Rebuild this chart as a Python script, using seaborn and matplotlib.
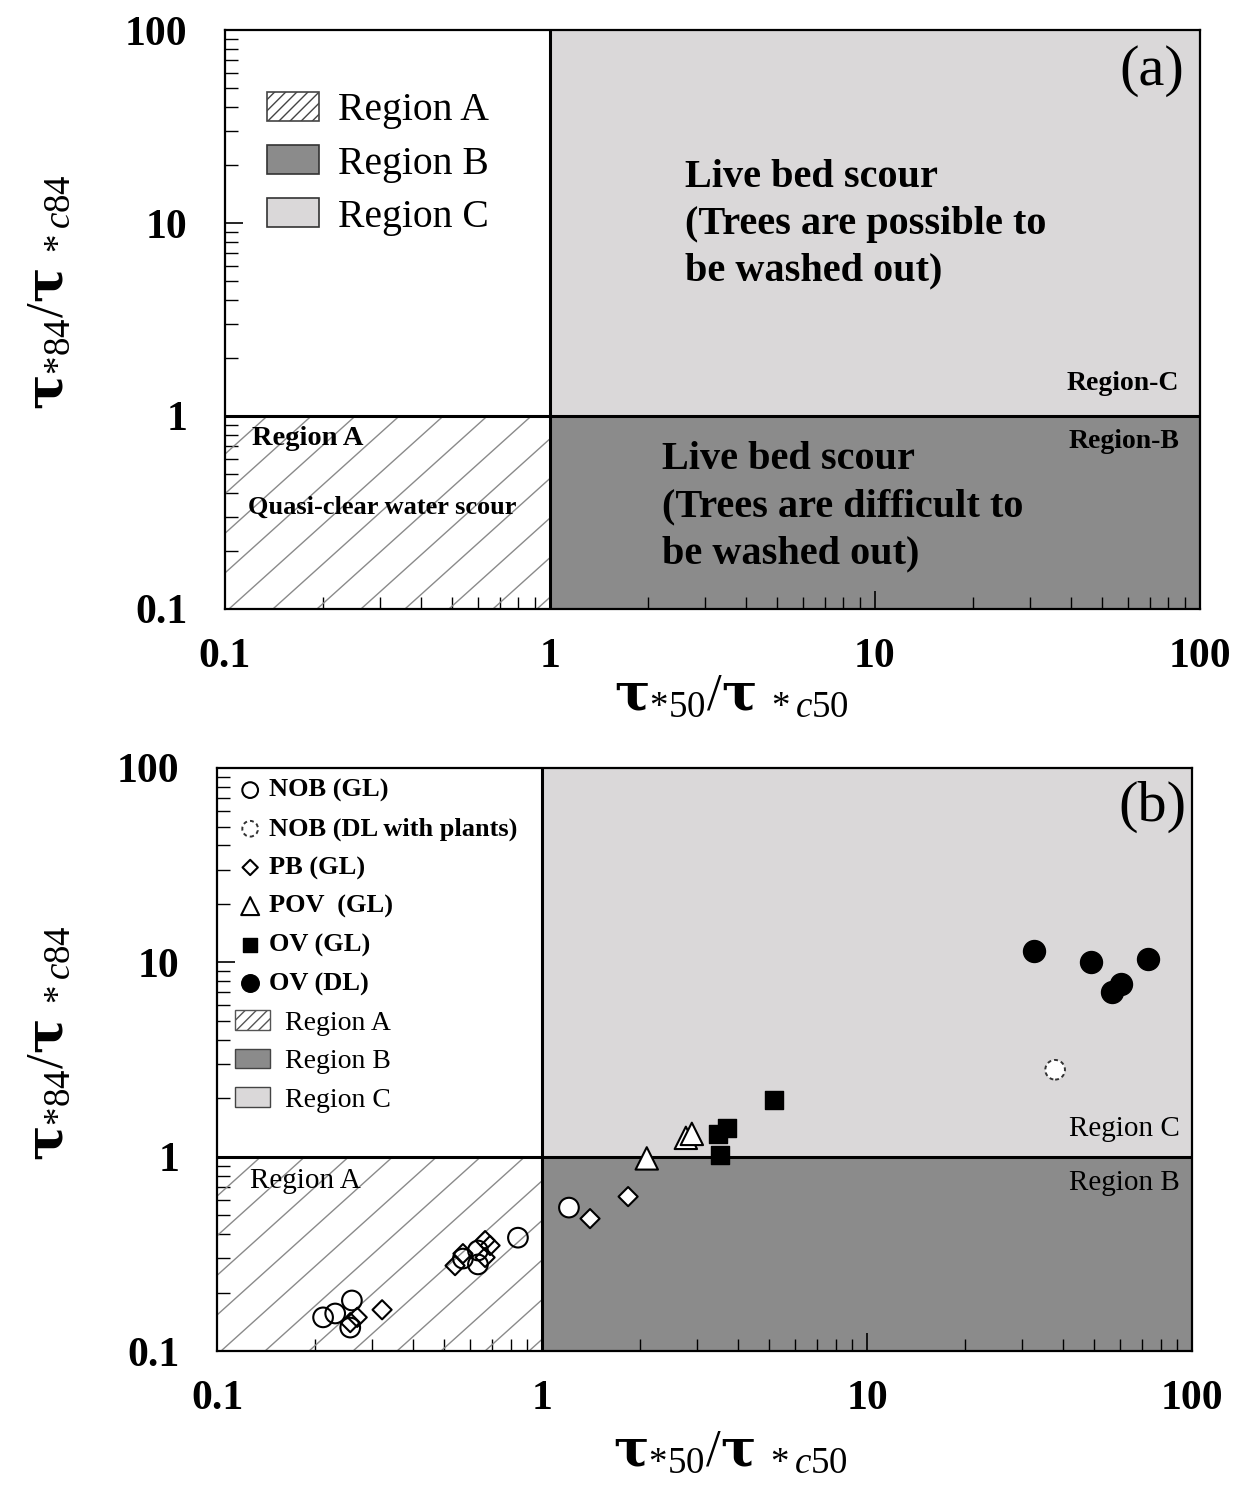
import numpy as np
import pandas as pd
import matplotlib
matplotlib.use("Agg")
import matplotlib.pyplot as plt
import seaborn as sns
from matplotlib.patches import Patch, Rectangle

# ---------------- data ----------------
nob_gl_x = [0.212, 0.231, 0.260, 0.257, 0.571, 0.635, 0.635, 0.843, 1.21]
nob_gl_y = [0.149, 0.156, 0.182, 0.132, 0.299, 0.329, 0.279, 0.383, 0.547]

nob_dl_x = [37.9]
nob_dl_y = [2.80]

pb_gl_x = [0.257, 0.270, 0.322, 0.540, 0.571, 0.668, 0.692, 0.668, 1.405, 1.84]
pb_gl_y = [0.140, 0.149, 0.163, 0.275, 0.317, 0.370, 0.349, 0.303, 0.480, 0.623]

pov_gl_x = [2.10, 2.77, 2.89]
pov_gl_y = [0.98, 1.25, 1.31]

ov_gl_x = [3.48, 3.71, 3.53, 5.17]
ov_gl_y = [1.31, 1.41, 1.02, 1.96]

ov_dl_x = [32.7, 48.9, 73.2, 60.5, 56.7]
ov_dl_y = [11.5, 10.06, 10.4, 7.75, 7.05]

series_names = ["NOB (GL)", "NOB (DL with plants)", "PB (GL)", "POV  (GL)", "OV (GL)", "OV (DL)"]
region_names = ["Region A", "Region B", "Region C"]
tick_values = [0.1, 1, 10, 100]
tick_labels = ["0.1", "1", "10", "100"]

# ---------------- style ----------------
sns.set_style("ticks")
plt.rcParams["font.family"] = ["Liberation Serif", "DejaVu Serif"]
plt.rcParams["mathtext.fontset"] = "custom"
plt.rcParams["mathtext.rm"] = "Liberation Serif"
plt.rcParams["mathtext.it"] = "Liberation Serif:italic"
plt.rcParams["mathtext.bf"] = "Liberation Serif:bold"
plt.rcParams["hatch.linewidth"] = 1.0
for key in ("text.color", "axes.labelcolor", "xtick.color", "ytick.color",
            "xtick.labelcolor", "ytick.labelcolor", "axes.edgecolor"):
    plt.rcParams[key] = "black"

C_COL = "#dad8d9"
B_COL = "#8b8b8b"
HATCH_COL = "#8a8a8a"

fig = plt.figure(figsize=(12.38, 14.93), dpi=100)
ax1 = fig.add_axes([0.1817, 0.5921, 0.7876, 0.3878])
ax2 = fig.add_axes([0.1753, 0.0951, 0.7876, 0.3905])

XLABEL = r"τ$_{*50}/$τ$_{\ *c50}$"
YLABEL = r"τ$_{*84}/$τ$_{\ *c84}$"
LABEL_FONT = dict(fontsize=38, family=["DejaVu Serif"], fontweight="bold",
                  color="black")


def setup(ax):
    ax.set_xscale("log")
    ax.set_yscale("log")
    ax.set_xlim(0.1, 100)
    ax.set_ylim(0.1, 100)
    ax.fill_between([1, 100], 1, 100, color=C_COL, lw=0, zorder=0)
    ax.fill_between([1, 100], 0.1, 1, color=B_COL, lw=0, zorder=0)
    rect = Rectangle((0.1, 0.1), 0.9, 0.9, transform=ax.transData,
                     fc="none", ec="none")
    ax.add_patch(rect)
    # sparse diagonal hatch for region A
    fig.canvas.draw()
    bb = ax.get_window_extent()
    w, h = bb.width, bb.height
    ang = np.deg2rad(42)
    t = np.array([0.0, 1200.0])
    for c in np.arange(-700, 500, 44):
        xs = (c + t) / w
        ys = (t * np.tan(ang)) / h
        ln, = ax.plot(xs, ys, transform=ax.transAxes, color=HATCH_COL,
                      lw=1.0, zorder=1)
        ln.set_clip_path(rect)
    ax.axhline(1, color="k", lw=2.2, zorder=2)
    ax.axvline(1, color="k", lw=2.2, zorder=2)
    ax.set_xticks(tick_values, labels=tick_labels)
    ax.set_yticks(tick_values, labels=tick_labels)
    for lbl in ax.get_xticklabels() + ax.get_yticklabels():
        lbl.set_fontweight("bold")
    ax.tick_params(which="both", direction="in", top=False, right=False,
                   labelsize=30, color="k", labelcolor="k")
    ax.tick_params(axis="x", which="major", length=13, width=1.2, pad=21)
    ax.tick_params(axis="y", which="major", length=13, width=1.2, pad=27)
    ax.tick_params(which="minor", length=9, width=1.0)
    for s in ax.spines.values():
        s.set_linewidth(1.6)
        s.set_color("k")
        s.set_zorder(5)


setup(ax1)
setup(ax2)

# ---------------- panel (a) ----------------
ax1.legend(
    handles=[Patch(facecolor="white", edgecolor="#444444", hatch="///", lw=1.2),
             Patch(facecolor=B_COL, edgecolor="#333333", lw=1.2),
             Patch(facecolor=C_COL, edgecolor="#333333", lw=1.2)],
    labels=region_names, loc="upper left", bbox_to_anchor=(0.027, 0.92),
    frameon=False, fontsize=28.5, handlelength=1.3, handleheight=0.75,
    labelspacing=0.4, handletextpad=0.5, borderaxespad=0)

ax1.text(0.472, 0.778, "Live bed scour\n(Trees are possible to\nbe washed out)",
         transform=ax1.transAxes, ha="left", va="top", fontsize=29,
         fontweight="bold", linespacing=1.36)
ax1.text(0.448, 0.29, "Live bed scour\n(Trees are difficult to\nbe washed out)",
         transform=ax1.transAxes, ha="left", va="top", fontsize=29,
         fontweight="bold", linespacing=1.36)
ax1.text(0.979, 0.390, "Region-C", transform=ax1.transAxes, ha="right",
         va="center", fontsize=20, fontweight="bold")
ax1.text(0.979, 0.290, "Region-B", transform=ax1.transAxes, ha="right",
         va="center", fontsize=20, fontweight="bold")
ax1.text(0.028, 0.295, "Region A", transform=ax1.transAxes, ha="left",
         va="center", fontsize=20.5, fontweight="bold")
ax1.text(0.024, 0.175, "Quasi-clear water scour", transform=ax1.transAxes,
         ha="left", va="center", fontsize=19, fontweight="bold")
ax1.text(0.951, 0.93, "(a)", transform=ax1.transAxes, ha="center",
         va="center", fontsize=42)

# ---------------- panel (b) ----------------
frames = []
for name, xs, ys in [(series_names[0], nob_gl_x, nob_gl_y),
                     (series_names[1], nob_dl_x, nob_dl_y),
                     (series_names[2], pb_gl_x, pb_gl_y),
                     (series_names[3], pov_gl_x, pov_gl_y),
                     (series_names[4], ov_gl_x, ov_gl_y),
                     (series_names[5], ov_dl_x, ov_dl_y)]:
    frames.append(pd.DataFrame({"x": xs, "y": ys, "series": name}))
df = pd.concat(frames, ignore_index=True)

styles = {
    series_names[0]: dict(marker="o", s=200, fc="white", ec="k", lw=1.5, ls="-"),
    series_names[1]: dict(marker="o", s=200, fc="white", ec="#333333", lw=1.4, ls=(0, (2, 1.6))),
    series_names[2]: dict(marker="D", s=95, fc="white", ec="k", lw=1.5, ls="-"),
    series_names[3]: dict(marker="^", s=260, fc="white", ec="k", lw=1.5, ls="-"),
    series_names[4]: dict(marker="s", s=170, fc="k", ec="k", lw=1.0, ls="-"),
    series_names[5]: dict(marker="o", s=250, fc="k", ec="k", lw=1.0, ls="-"),
}

handles = []
for name in series_names:
    sub = df[df["series"] == name]
    st = styles[name]
    sns.scatterplot(data=sub, x="x", y="y", ax=ax2, marker=st["marker"],
                    s=st["s"], color=st["fc"], edgecolor=st["ec"],
                    linewidth=st["lw"], zorder=4, legend=False)
    coll = ax2.collections[-1]
    if st["fc"] == "white":
        fcs = ["none" if xv < 1 else "white" for xv in sub["x"]]
        coll.set_facecolors(fcs)
    coll.set_linestyle(st["ls"])
    handles.append(coll)

# axis labels (set after seaborn so they are not replaced)
for ax in (ax1, ax2):
    ax.set_xlabel(XLABEL, **LABEL_FONT)
    ax.set_ylabel(YLABEL, **LABEL_FONT)
ax1.xaxis.set_label_coords(0.519, -0.105)
ax1.yaxis.set_label_coords(-0.155, 0.5475)
ax2.xaxis.set_label_coords(0.527, -0.128)
ax2.yaxis.set_label_coords(-0.147, 0.528)

leg_b1 = ax2.legend(handles=handles, labels=series_names,
                    loc="upper left", bbox_to_anchor=(0.011, 1.0),
                    frameon=False, scatterpoints=1, markerscale=0.8,
                    handlelength=0.9, handletextpad=0.25, labelspacing=0.56,
                    borderaxespad=0, prop={"weight": "bold", "size": 19})
ax2.add_artist(leg_b1)

ax2.legend(
    handles=[Patch(facecolor="white", edgecolor="#555555", hatch="///", lw=1.0),
             Patch(facecolor=B_COL, edgecolor="#444444", lw=1.0),
             Patch(facecolor=C_COL, edgecolor="#444444", lw=1.0)],
    labels=region_names, loc="upper left", bbox_to_anchor=(0.007, 0.604),
    frameon=False, fontsize=20, handlelength=1.26, handleheight=0.72,
    labelspacing=0.47, handletextpad=0.55, borderaxespad=0)

ax2.text(0.987, 0.381, "Region C", transform=ax2.transAxes, ha="right",
         va="center", fontsize=21)
ax2.text(0.987, 0.288, "Region B", transform=ax2.transAxes, ha="right",
         va="center", fontsize=21)
ax2.text(0.034, 0.292, "Region A", transform=ax2.transAxes, ha="left",
         va="center", fontsize=21)
ax2.text(0.959, 0.933, "(b)", transform=ax2.transAxes, ha="center",
         va="center", fontsize=42)

fig.savefig("out.png", dpi=100)
